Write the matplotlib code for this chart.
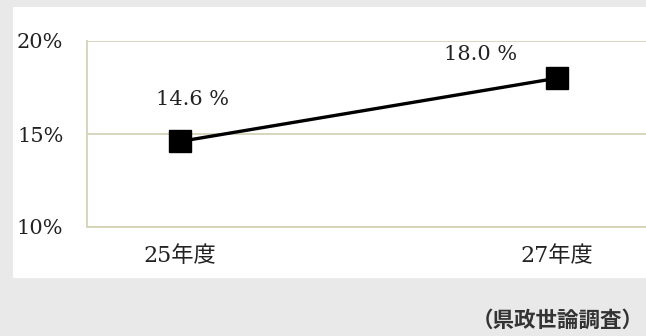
import matplotlib
matplotlib.use("Agg")
import matplotlib.pyplot as plt
from matplotlib.patches import Rectangle

# survey results (percent)
years = ["25年度", "27年度"]
rates = [14.6, 18.0]
yticks = [10, 15, 20]

serif_jp = ["DejaVu Serif", "Noto Sans CJK JP"]
grid_color = "#d6d2b8"
fs = 15

fig = plt.figure(figsize=(6.46, 3.36), dpi=100)
fig.patch.set_facecolor("#e9e9e9")

# white card behind the chart
fig.patches.append(Rectangle((13 / 646, 1 - 278 / 336), 1, (278 - 7) / 336,
                             transform=fig.transFigure, facecolor="white",
                             edgecolor="none", zorder=-10))

ax = fig.add_axes([87 / 646, 1 - 227 / 336, (650 - 87) / 646, (227 - 41) / 336])
ax.set_facecolor("none")
ax.set_zorder(1)

x = list(range(len(years)))
ax.plot(x, rates, color="black", lw=2.4, marker="s", ms=16.5,
        mfc="black", mec="black", solid_joinstyle="round", zorder=3)

ax.set_xlim(-93 / 377, 1 + 93 / 377)
ax.set_ylim(10, 20)
ax.set_yticks(yticks)
ax.set_yticklabels([f"{v}%" for v in yticks], family=serif_jp, fontsize=fs, color="#222222")
ax.set_xticks(x)
ax.set_xticklabels(years, family=serif_jp, fontsize=16, color="#222222")
ax.tick_params(axis="both", length=0)
ax.tick_params(axis="y", pad=17)
ax.tick_params(axis="x", pad=13)

ax.grid(axis="y", color=grid_color, lw=1.3)
ax.set_axisbelow(True)
for side in ["top", "right"]:
    ax.spines[side].set_visible(False)
for side in ["left", "bottom"]:
    ax.spines[side].set_color(grid_color)
    ax.spines[side].set_linewidth(1.3)

# value labels
offsets = [(9, 30), (-55, 17)]
for xi, v, off in zip(x, rates, offsets):
    ax.annotate(f"{v:.1f} %", (xi, v), xytext=off, textcoords="offset points",
                ha="center", va="center", family=serif_jp, fontsize=fs, color="#222222")

fig.text(558 / 646, 1 - 320 / 336, "（県政世論調査）", ha="center", va="center",
         family=["Noto Sans CJK JP"], fontweight="bold", fontsize=15.5, color="#333333")

fig.savefig("out.png", dpi=100, facecolor=fig.get_facecolor())
